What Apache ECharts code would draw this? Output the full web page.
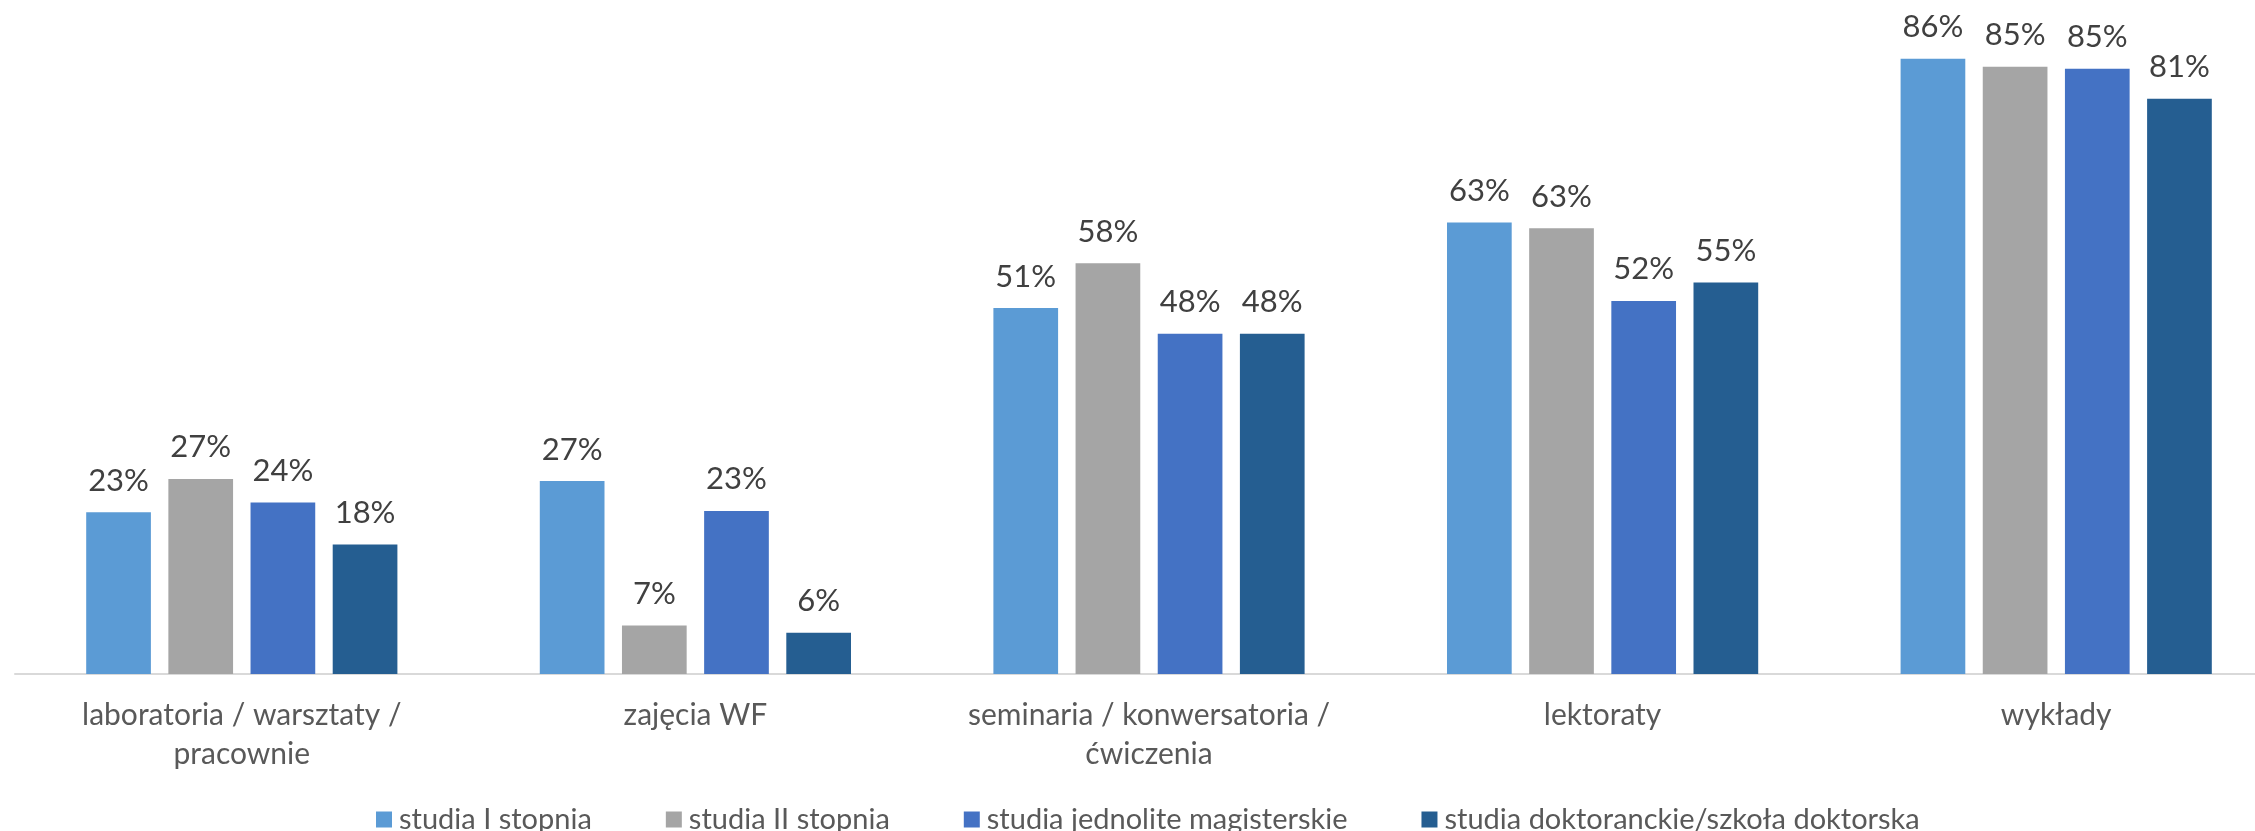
<!DOCTYPE html>
<html>
<head>
<meta charset="utf-8">
<script src="https://cdn.jsdelivr.net/npm/echarts@6/dist/echarts.min.js"></script>
<style>
html,body{margin:0;padding:0;background:#fff;overflow:hidden;width:2255px;height:831px;}
#chart{width:2300px;height:831px;}
</style>
</head>
<body>
<div id="chart"></div>
<script>
const categories = [
  "laboratoria / warsztaty /\npracownie",
  "zajęcia WF",
  "seminaria / konwersatoria /\nćwiczenia",
  "lektoraty",
  "wykłady"
];
const seriesNames = [
  "studia I stopnia",
  "studia II stopnia",
  "studia jednolite magisterskie",
  "studia doktoranckie/szkoła doktorska"
];
const studiaI = [22.7, 27.1, 51.4, 63.4, 86.4];
const studiaII = [27.4, 6.8, 57.7, 62.6, 85.3];
const jednolite = [24.1, 22.9, 47.8, 52.4, 85.0];
const doktoranckie = [18.2, 5.8, 47.8, 55.0, 80.8];
const colors = ["#5B9BD5", "#A5A5A5", "#4472C4", "#255E91"];

const FONT = "Lato";
const allData = [studiaI, studiaII, jednolite, doktoranckie];

const chart = echarts.init(document.getElementById('chart'));
chart.setOption({
  animation: false,
  grid: { left: 15, top: 0, width: 2268, height: 674, containLabel: false },
  legend: {
    data: seriesNames,
    left: 371,
    top: 800,
    icon: 'rect',
    itemWidth: 16,
    itemHeight: 16,
    itemGap: 74,
    textStyle: { fontFamily: FONT, fontSize: 29, color: '#595959', padding: [0, 0, 0, 2] }
  },
  xAxis: {
    type: 'category',
    data: categories,
    axisTick: { show: false },
    axisLine: { show: true, lineStyle: { color: '#D9D9D9', width: 2 } },
    axisLabel: { interval: 0, margin: 22, fontFamily: FONT, fontSize: 30, color: '#595959', lineHeight: 39 }
  },
  yAxis: {
    type: 'value', min: 0, max: 94.66, show: false,
    splitLine: { show: false }
  },
  series: seriesNames.map((name, i) => ({
    name: name,
    type: 'bar',
    data: allData[i],
    barWidth: 64.7,
    barGap: '27%',
    itemStyle: { color: colors[i] },
    label: {
      show: true,
      position: 'top',
      distance: 16,
      fontFamily: FONT,
      fontSize: 31,
      color: '#404040',
      formatter: p => Math.round(p.value) + '%'
    }
  }))
});
</script>
</body>
</html>
